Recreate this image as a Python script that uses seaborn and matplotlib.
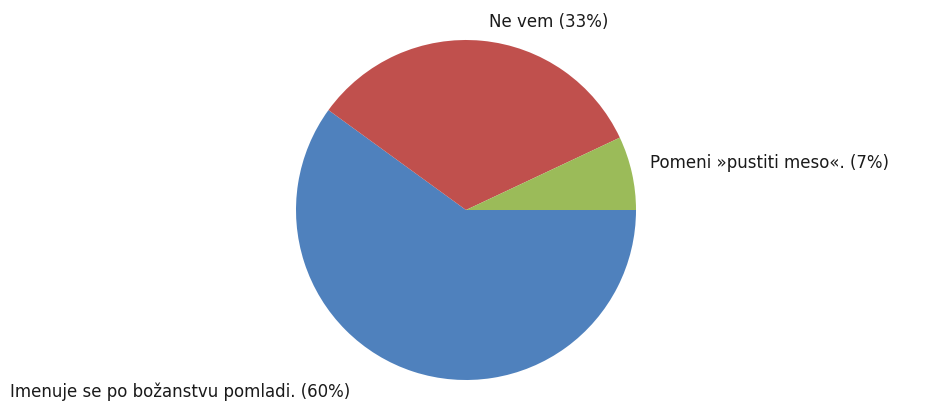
import matplotlib
matplotlib.use("Agg")
import matplotlib.pyplot as plt
import seaborn as sns

categories = ["Imenuje se po božanstvu pomladi.", "Ne vem", "Pomeni »pustiti meso«."]
shares = [60, 33, 7]
colors = ["#4F81BD", "#C0504D", "#9BBB59"]

sns.set_theme(style="white")
plt.rcParams["font.family"] = ["DejaVu Sans"]

W, H = 925, 403
fig = plt.figure(figsize=(W / 100, H / 100), dpi=100)
fig.patch.set_facecolor("white")

# pie centred at about (466, 210) px with a radius of 170 px
cx, cy, r = 466, 210, 170
ax = fig.add_axes([(cx - r) / W, (H - cy - r) / H, 2 * r / W, 2 * r / H])
ax.pie(shares, colors=colors, startangle=0, counterclock=False,
       wedgeprops=dict(linewidth=0))
ax.set_aspect("equal")
ax.set_xlim(-1, 1)
ax.set_ylim(-1, 1)
ax.axis("off")

# label anchors (left edge, vertical centre) in pixels from top-left
label_pos = [(10, 392), (489, 22), (650, 163)]
for cat, pct, (lx, ly) in zip(categories, shares, label_pos):
    fig.text(lx / W, 1 - ly / H, f"{cat} ({pct}%)", ha="left", va="center",
             fontsize=12, color="#1a1a1a")

fig.savefig("out.png", dpi=100, facecolor="white")
